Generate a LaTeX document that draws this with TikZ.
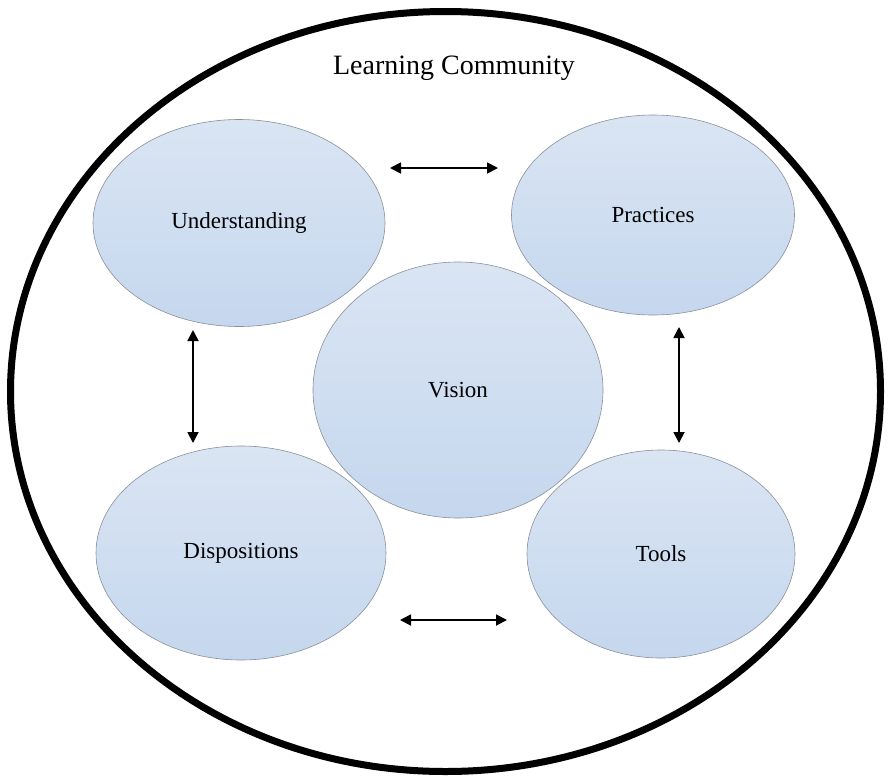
\documentclass[tikz,border=0pt]{standalone}
\usepackage{fontspec}
\setmainfont{Liberation Serif}
\usetikzlibrary{arrows.meta,shapes.geometric}
\definecolor{topblue}{HTML}{DAE5F3}
\definecolor{botblue}{HTML}{C5D7EE}
\definecolor{rimgray}{HTML}{8A9099}
\tikzset{
  blob/.style={ellipse, draw=rimgray, line width=0.6pt, top color=topblue, bottom color=botblue, font=\fontsize{23}{26}\selectfont, inner sep=0pt},
  link/.style={line width=1.8pt, {Triangle[length=11pt,width=11pt]}-{Triangle[length=11pt,width=11pt]}}
}
\begin{document}
\begin{tikzpicture}[x=1pt,y=-1pt]
\useasboundingbox (0,0) rectangle (888,782);
\node[ellipse, draw, line width=7pt, minimum width=870pt, minimum height=760pt, inner sep=0pt] (lc) at (445.5,391.5) {};
\node[font=\fontsize{28}{31}\selectfont] (title) at (454,68) {Learning Community};
\node[blob, minimum width=292pt, minimum height=207pt] (und) at (239,223) {Understanding};
\node[blob, minimum width=283pt, minimum height=200pt] (pra) at (653,215) {Practices};
\node[blob, minimum width=290pt, minimum height=256pt] (vis) at (458,390) {Vision};
\node[blob, minimum width=290pt, minimum height=214pt] (dis) at (241,553) {Dispositions};
\node[blob, minimum width=268pt, minimum height=208pt] (too) at (661,554) {Tools};
\coordinate (a1) at (390,168); \coordinate (b1) at (498,168);
\coordinate (a2) at (400,620); \coordinate (b2) at (507,620);
\coordinate (a3) at (193,330); \coordinate (b3) at (193,443);
\coordinate (a4) at (679,327); \coordinate (b4) at (679,443);
\draw[link] (a1) -- (b1);
\draw[link] (a2) -- (b2);
\draw[link] (a3) -- (b3);
\draw[link] (a4) -- (b4);
\end{tikzpicture}
\end{document}
